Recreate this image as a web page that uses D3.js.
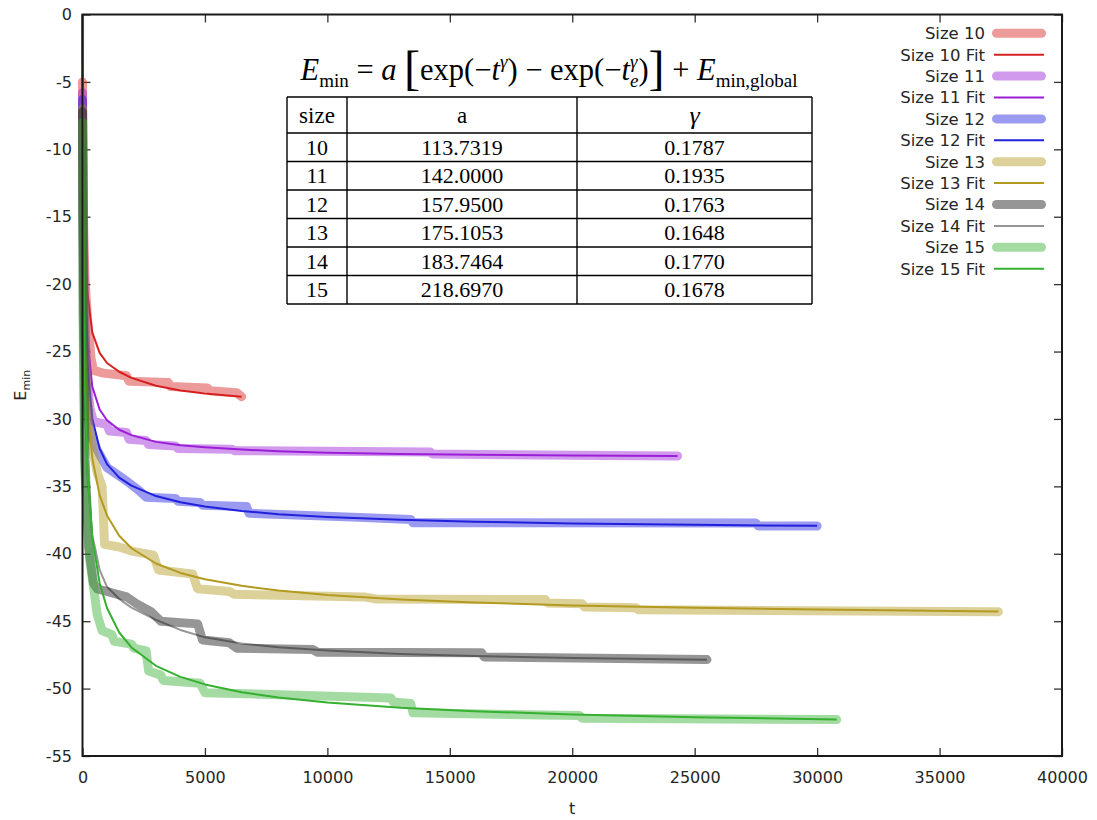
<!DOCTYPE html>
<html>
<head>
<meta charset="utf-8">
<script src="https://cdn.jsdelivr.net/npm/d3@7"></script>
<style>
  body { margin: 0; background: #fff; }
  svg { display: block; }
</style>
</head>
<body>
<svg id="chart" width="1097" height="820"></svg>
<script>
// ---- data -------------------------------------------------------------
const sizes = [10, 11, 12, 13, 14, 15];
const fitA = ["113.7319", "142.0000", "157.9500", "175.1053", "183.7464", "218.6970"];
const fitGamma = ["0.1787", "0.1935", "0.1763", "0.1648", "0.1770", "0.1678"];
const colors = ["#d62020", "#9b1fd8", "#2020dd", "#b39a20", "#161616", "#35b030"];

const xTicks = [0, 5000, 10000, 15000, 20000, 25000, 30000, 35000, 40000];
const yTicks = [0, -5, -10, -15, -20, -25, -30, -35, -40, -45, -50, -55];

// running minimum energy [t, E] per size
const data10 = [[0,-5.0],[20,-11],[50,-16],[100,-19.5],[200,-22.5],[350,-25.5],[450,-26.4],[850,-26.6],[1800,-26.8],[1900,-27.2],[3500,-27.3],[3600,-27.6],[5100,-27.7],[5200,-27.9],[6300,-28.05],[6500,-28.35]];
const data11 = [[0,-5.8],[20,-14],[60,-20],[150,-26],[300,-29.2],[450,-30.2],[1000,-30.4],[1100,-30.9],[1800,-31.0],[1900,-31.5],[2600,-31.6],[2700,-31.9],[3800,-32.0],[3900,-32.2],[6100,-32.25],[6200,-32.35],[14200,-32.45],[14300,-32.6],[20000,-32.7],[24300,-32.75]];
const data12 = [[0,-6.3],[20,-15],[60,-22],[150,-28],[300,-31],[600,-32.3],[1000,-33.6],[1800,-34.6],[2300,-35.3],[2600,-35.8],[3800,-35.9],[3900,-36.1],[4800,-36.2],[4900,-36.4],[6700,-36.5],[6800,-37.0],[11300,-37.3],[13400,-37.45],[13500,-37.7],[27500,-37.72],[27600,-37.94],[30000,-37.94]];
const data13 = [[0,-7.0],[50,-20],[150,-27],[300,-31],[600,-34],[800,-35],[900,-39.3],[1500,-39.5],[2000,-39.8],[2900,-40.1],[3100,-41.2],[4500,-41.5],[4700,-42.6],[6000,-42.8],[6200,-43.0],[11500,-43.2],[12000,-43.35],[18900,-43.4],[19000,-43.65],[20400,-43.7],[20500,-43.95],[22600,-44.0],[22700,-44.15],[37400,-44.3]];
const data14 = [[0,-7.2],[30,-22],[100,-33],[250,-39.5],[450,-42.2],[600,-42.6],[1000,-42.8],[1800,-43.2],[2200,-43.7],[2800,-44.3],[3200,-45.0],[4700,-45.2],[4900,-46.4],[6000,-46.6],[6300,-47.0],[9400,-47.1],[9600,-47.3],[16300,-47.35],[16400,-47.65],[25500,-47.85]];
const data15 = [[0,-8.0],[30,-24],[100,-34],[300,-40.5],[600,-44.5],[800,-45.7],[1200,-46.0],[1300,-46.5],[2000,-46.7],[2100,-47.0],[2600,-47.2],[2700,-48.7],[3200,-49.0],[3300,-49.4],[4800,-49.6],[5000,-50.3],[12600,-50.7],[12700,-51.0],[13400,-51.1],[13500,-51.8],[20300,-52.0],[20400,-52.2],[30800,-52.3]];

// fitted curves [t, E] per size
const fit10 = [[1,12.56],[10,-4.13],[30,-11.16],[60,-15.05],[100,-17.62],[200,-20.64],[400,-23.6],[700,-25.1],[1000,-25.85],[1500,-26.5],[2000,-26.95],[3000,-27.54],[4000,-27.89],[5000,-28.12],[6500,-28.35]];
const fit11 = [[1,19.37],[10,-3.07],[30,-12.28],[60,-17.27],[100,-20.46],[200,-24.13],[400,-27.6],[700,-29.3],[1000,-30.1],[1500,-30.8],[2000,-31.2],[3000,-31.7],[4000,-31.95],[5000,-32.1],[6500,-32.27],[8000,-32.39],[10000,-32.50],[13000,-32.60],[16000,-32.66],[20000,-32.71],[24300,-32.75]];
const fit12 = [[1,19.85],[10,-3.04],[30,-12.71],[60,-18.09],[100,-21.65],[200,-25.86],[400,-30.0],[700,-32.2],[1000,-33.35],[1500,-34.35],[2000,-34.95],[3000,-35.72],[4000,-36.18],[5000,-36.5],[6500,-36.83],[8000,-37.06],[10000,-37.27],[13000,-37.48],[16000,-37.62],[20000,-37.75],[25000,-37.85],[30000,-37.93]];
const fit13 = [[1,19.54],[10,-4.27],[30,-14.50],[60,-20.30],[100,-24.20],[200,-28.91],[400,-32.92],[700,-35.65],[1000,-37.16],[1500,-38.66],[2000,-39.59],[3000,-40.72],[4000,-41.42],[5000,-41.89],[6500,-42.38],[8000,-42.73],[10000,-43.05],[13000,-43.39],[16000,-43.61],[20000,-43.83],[25000,-44.01],[30000,-44.14],[37400,-44.28]];
const fit14 = [[1,19.30],[10,-7.43],[30,-18.70],[60,-24.98],[100,-29.12],[200,-34.01],[400,-38.6],[700,-41.2],[1000,-42.45],[1500,-43.35],[2000,-44.0],[3000,-44.9],[4000,-45.65],[5000,-46.2],[6500,-46.65],[8000,-46.94],[10000,-47.18],[13000,-47.43],[16000,-47.58],[20000,-47.73],[25500,-47.86]];
const fit15 = [[1,27.41],[10,-2.85],[30,-15.78],[60,-23.09],[100,-27.97],[200,-33.85],[400,-38.83],[700,-42.18],[1000,-44.02],[1500,-45.84],[2000,-46.95],[3000,-48.31],[4000,-49.13],[5000,-49.69],[6500,-50.27],[8000,-50.66],[10000,-51.04],[13000,-51.43],[16000,-51.68],[20000,-51.92],[25000,-52.13],[30800,-52.29]];

const dataSeries = [data10, data11, data12, data13, data14, data15];
const fitSeries = [fit10, fit11, fit12, fit13, fit14, fit15];

// ---- layout -------------------------------------------------------------
const plot = { left: 82.5, right: 1062, top: 14.5, bottom: 756 };
const svg = d3.select("#chart");

const x = d3.scaleLinear().domain([0, 40000]).range([plot.left, plot.right]);
const y = d3.scaleLinear().domain([-55, 0]).range([plot.bottom, plot.top]);

const tickFont = "'DejaVu Sans', sans-serif";
const textColor = "#262626";
const plain = d => String(d);   // hyphen-minus, as gnuplot prints it

svg.append("defs").append("clipPath").attr("id", "plot-clip")
  .append("rect")
  .attr("x", plot.left - 6).attr("y", plot.top)
  .attr("width", plot.right - plot.left + 6).attr("height", plot.bottom - plot.top);

// ---- axes (inward ticks, mirrored on top/right) ------------------------
function styleAxis(g) {
  g.select(".domain").remove();
  g.selectAll(".tick line").attr("stroke", "#333").attr("stroke-width", 1.3);
  g.selectAll(".tick text")
    .attr("fill", textColor)
    .style("font-family", tickFont)
    .style("font-size", "16px");
}

svg.append("g")
  .attr("transform", `translate(0,${plot.bottom})`)
  .call(d3.axisBottom(x).tickValues(xTicks).tickSize(-8).tickPadding(15.5).tickFormat(plain))
  .call(styleAxis);

svg.append("g")
  .attr("transform", `translate(0,${plot.top})`)
  .call(d3.axisTop(x).tickValues(xTicks).tickSize(-8).tickFormat(""))
  .call(styleAxis);

svg.append("g")
  .attr("transform", `translate(${plot.left},0)`)
  .call(d3.axisLeft(y).tickValues(yTicks).tickSize(-8).tickPadding(10.5).tickFormat(plain))
  .call(styleAxis);

svg.append("g")
  .attr("transform", `translate(${plot.right},0)`)
  .call(d3.axisRight(y).tickValues(yTicks).tickSize(-8).tickFormat(""))
  .call(styleAxis);

// axis titles
svg.append("text")
  .attr("x", (plot.left + plot.right) / 2).attr("y", 814)
  .attr("text-anchor", "middle")
  .attr("fill", textColor)
  .style("font-family", tickFont).style("font-size", "16px")
  .text("t");

const yTitle = svg.append("text")
  .attr("transform", `translate(26,${(plot.top + plot.bottom) / 2}) rotate(-90)`)
  .attr("text-anchor", "middle")
  .attr("fill", textColor)
  .style("font-family", tickFont).style("font-size", "16px");
yTitle.append("tspan").text("E");
yTitle.append("tspan").attr("dy", 4).style("font-size", "11px").text("min");

// ---- curves -------------------------------------------------------------
const line = d3.line().x(d => x(d[0])).y(d => y(d[1]));
const curves = svg.append("g").attr("clip-path", "url(#plot-clip)");

sizes.forEach((s, i) => {
  curves.append("path")
    .attr("d", line(dataSeries[i]))
    .attr("fill", "none")
    .attr("stroke", colors[i])
    .attr("stroke-opacity", 0.45)
    .attr("stroke-width", 9)
    .attr("stroke-linejoin", "round")
    .attr("stroke-linecap", "round");
  curves.append("path")
    .attr("d", line(fitSeries[i]))
    .attr("fill", "none")
    .attr("stroke", colors[i])
    .attr("stroke-opacity", s === 14 ? 0.45 : 1)
    .attr("stroke-width", 2)
    .attr("stroke-linejoin", "round");
});

// ---- border -------------------------------------------------------------
svg.append("rect")
  .attr("x", plot.left).attr("y", plot.top)
  .attr("width", plot.right - plot.left).attr("height", plot.bottom - plot.top)
  .attr("fill", "none").attr("stroke", "#1a1a1a").attr("stroke-width", 2);

// ---- legend -------------------------------------------------------------
const legend = svg.append("g");
const legendRows = [];
sizes.forEach((s, i) => {
  legendRows.push({ label: `Size ${s}`, color: colors[i], fit: false, size: s });
  legendRows.push({ label: `Size ${s} Fit`, color: colors[i], fit: true, size: s });
});
legendRows.forEach((r, k) => {
  const ly = 33.3 + k * 21.4;
  legend.append("text")
    .attr("x", 985).attr("y", ly).attr("dy", "0.36em")
    .attr("text-anchor", "end")
    .attr("fill", textColor)
    .style("font-family", tickFont).style("font-size", "16.5px")
    .text(r.label);
  if (r.fit) {
    legend.append("line")
      .attr("x1", 994).attr("x2", 1044).attr("y1", ly).attr("y2", ly)
      .attr("stroke", r.color)
      .attr("stroke-opacity", r.size === 14 ? 0.45 : 1)
      .attr("stroke-width", 2);
  } else {
    legend.append("line")
      .attr("x1", 996.5).attr("x2", 1041.5).attr("y1", ly).attr("y2", ly)
      .attr("stroke", r.color).attr("stroke-opacity", 0.45)
      .attr("stroke-width", 9).attr("stroke-linecap", "round");
  }
});

// ---- fit formula -----------------------------------------------------------
const serif = "'Liberation Serif', 'Times New Roman', serif";
const formula = svg.append("g");
const fBase = 80, fSize = 30.5, fSmall = 19, fBig = 48;
const parts = [
  { t: "E", it: true },
  { t: "min", shift: 7, small: true },
  { t: " = " },
  { t: "a", it: true },
  { t: " " },
  { t: "[", big: true },
  { t: "exp(−" },
  { t: "t", it: true },
  { t: "γ", it: true, shift: -12, small: true },
  { t: ") − exp(−" },
  { t: "t", it: true },
  { t: "e", it: true, shift: 7, small: true, stack: true },
  { t: "γ", it: true, shift: -12, small: true },
  { t: ")" },
  { t: "]", big: true },
  { t: " + " },
  { t: "E", it: true },
  { t: "min,global", shift: 7, small: true }
];
let cx = 0, stackW = 0;
parts.forEach(p => {
  const el = formula.append("text")
    .attr("x", cx)
    .attr("y", fBase + (p.big ? 4 : 0) + (p.shift || 0))
    .attr("fill", "#000")
    .style("font-family", serif)
    .style("font-style", p.it ? "italic" : "normal")
    .style("font-size", (p.big ? fBig : p.small ? fSmall : fSize) + "px")
    .style("white-space", "pre")
    .attr("xml:space", "preserve")
    .text(p.t);
  const w = el.node().getComputedTextLength();
  if (p.stack) { stackW = w; }
  else { cx += Math.max(w, stackW); stackW = 0; }
});
formula.attr("transform", `translate(${549 - cx / 2},0)`);

// ---- parameter table -------------------------------------------------------
const colX = [287, 347, 577, 812];
const rowY = [97, 133];
for (let k = 1; k <= sizes.length; k++) rowY.push(133 + k * 28.5);
const table = svg.append("g");
rowY.forEach(ry => table.append("line")
  .attr("x1", colX[0]).attr("x2", colX[3]).attr("y1", ry).attr("y2", ry)
  .attr("stroke", "#000").attr("stroke-width", 1.4));
colX.forEach(cxx => table.append("line")
  .attr("x1", cxx).attr("x2", cxx).attr("y1", rowY[0]).attr("y2", rowY[rowY.length - 1])
  .attr("stroke", "#000").attr("stroke-width", 1.4));

const header = [{ t: "size" }, { t: "a" }, { t: "γ", it: true }];
const rows = sizes.map((s, i) => [String(s), fitA[i], fitGamma[i]]);
function cellText(col, row, txt, italic, fs) {
  table.append("text")
    .attr("x", (colX[col] + colX[col + 1]) / 2)
    .attr("y", (rowY[row] + rowY[row + 1]) / 2)
    .attr("dy", "0.34em")
    .attr("text-anchor", "middle")
    .attr("fill", "#000")
    .style("font-family", serif)
    .style("font-style", italic ? "italic" : "normal")
    .style("font-size", (fs || 22) + "px")
    .text(txt);
}
header.forEach((h, c) => cellText(c, 0, h.t, h.it, h.it ? 26 : 23));
rows.forEach((r, ri) => r.forEach((v, c) => cellText(c, ri + 1, v, false)));
</script>
</body>
</html>
